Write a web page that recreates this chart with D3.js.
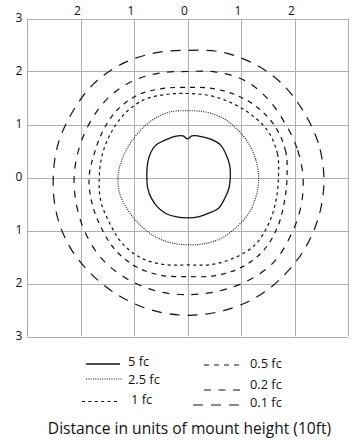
<!DOCTYPE html>
<html>
<head>
<meta charset="utf-8">
<script src="https://cdn.jsdelivr.net/npm/d3@7"></script>
<style>
  body { margin: 0; background: #fff; }
  text { font-family: "Open Sans", sans-serif; fill: #111; }
</style>
</head>
<body>
<div id="chart"></div>
<script>
// grid ticks, in units of mount height
const xTicks = [-3, -2, -1, 0, 1, 2, 3];
const yTicks = [-3, -2, -1, 0, 1, 2, 3];
const topLabels = [-2, -1, 0, 1, 2];

// polar sample angles (degrees, 0 = right, counter-clockwise)
const angles = [0, 15, 30, 45, 60, 75, 90, 105, 120, 135, 150, 165,
  180, 195, 210, 225, 240, 255, 270, 285, 300, 315, 330, 345];
const angles5 = [0, 15, 30, 45, 60, 75, 84, 90, 96, 105, 120, 135, 150, 165,
  180, 195, 210, 225, 240, 255, 270, 285, 300, 315, 330, 345];

// contour radius (mount heights) at each angle
const r5fc = [0.80, 0.82, 0.84, 0.87, 0.84, 0.81, 0.79, 0.73, 0.79, 0.81, 0.82, 0.85, 0.82, 0.78,
  0.76, 0.77, 0.78, 0.79, 0.79, 0.77, 0.76, 0.77, 0.78, 0.82, 0.80, 0.80];
const r25fc = [1.33, 1.32, 1.31, 1.30, 1.30, 1.28, 1.26, 1.28, 1.27, 1.25, 1.25, 1.27,
  1.30, 1.30, 1.27, 1.26, 1.27, 1.27, 1.27, 1.29, 1.31, 1.31, 1.33, 1.33];
const r1fc = [1.70, 1.74, 1.74, 1.68, 1.63, 1.60, 1.585, 1.62, 1.68, 1.68, 1.66, 1.65,
  1.65, 1.68, 1.69, 1.74, 1.75, 1.70, 1.65, 1.70, 1.75, 1.79, 1.75, 1.71];
const r05fc = [1.86, 1.90, 1.90, 1.86, 1.80, 1.74, 1.70, 1.74, 1.81, 1.83, 1.81, 1.80,
  1.84, 1.85, 1.87, 1.92, 1.94, 1.91, 1.87, 1.92, 1.97, 1.98, 1.93, 1.87];
const r02fc = [2.16, 2.12, 2.09, 2.11, 2.12, 2.06, 2.00, 2.04, 2.09, 2.11, 2.10, 2.10,
  2.12, 2.14, 2.18, 2.22, 2.22, 2.22, 2.21, 2.22, 2.25, 2.27, 2.22, 2.19];
const r01fc = [2.55, 2.53, 2.50, 2.50, 2.48, 2.45, 2.40, 2.43, 2.47, 2.49, 2.48, 2.50,
  2.51, 2.54, 2.56, 2.56, 2.57, 2.59, 2.60, 2.60, 2.60, 2.58, 2.57, 2.56];

const levelNames = ["5 fc", "2.5 fc", "1 fc", "0.5 fc", "0.2 fc", "0.1 fc"];
const title = "Distance in units of mount height (10ft)";

const W = 357, H = 440;

const levels = [
  { name: levelNames[0], a: angles5, r: r5fc, dash: null, w: 1.3 },
  { name: levelNames[1], a: angles, r: r25fc, dash: "1,1.3", w: 1.1 },
  { name: levelNames[2], a: angles, r: r1fc, dash: "3,3.4", w: 1.2 },
  { name: levelNames[3], a: angles, r: r05fc, dash: "5,5", w: 1.2 },
  { name: levelNames[4], a: angles, r: r02fc, dash: "7,7.5", w: 1.2 },
  { name: levelNames[5], a: angles, r: r01fc, dash: "10,8", w: 1.2 }
];

const svg = d3.select("#chart").append("svg")
  .attr("width", W).attr("height", H);

const x = d3.scaleLinear().domain([-3, 3]).range([27, 348]);
const y = d3.scaleLinear().domain([-3, 3]).range([336.5, 18.5]);

// grid
const grid = svg.append("g").attr("stroke", "#b0b0b0").attr("stroke-width", 1);
grid.selectAll("line.v").data(xTicks).enter().append("line")
  .attr("x1", d => Math.round(x(d)) + 0.5).attr("x2", d => Math.round(x(d)) + 0.5)
  .attr("y1", y(3)).attr("y2", y(-3));
grid.selectAll("line.h").data(yTicks).enter().append("line")
  .attr("y1", d => Math.round(y(d)) + 0.5).attr("y2", d => Math.round(y(d)) + 0.5)
  .attr("x1", x(-3)).attr("x2", x(3));

// tick labels (absolute distance)
svg.selectAll("text.top").data(topLabels).enter().append("text")
  .attr("x", d => x(d) - 3).attr("y", 12)
  .attr("text-anchor", "middle").attr("dominant-baseline", "middle")
  .attr("font-size", 12).text(d => Math.abs(d));
svg.selectAll("text.left").data(yTicks).enter().append("text")
  .attr("x", 19).attr("y", d => y(d))
  .attr("text-anchor", "middle").attr("dominant-baseline", "middle")
  .attr("font-size", 12).text(d => Math.abs(d));

// contours
const line = d3.line()
  .x(p => x(p[1] * Math.cos(p[0] * Math.PI / 180)))
  .y(p => y(p[1] * Math.sin(p[0] * Math.PI / 180)))
  .curve(d3.curveCatmullRomClosed.alpha(0.5));

svg.append("g").selectAll("path").data(levels).enter().append("path")
  .attr("d", d => line(d.a.map((ang, i) => [ang, d.r[i]])))
  .attr("fill", "none").attr("stroke", "#111")
  .attr("stroke-width", d => d.w)
  .attr("stroke-dasharray", d => d.dash);

// legend
const legendPos = [
  { x1: 86, x2: 120, ly: 364, tx: 128, ty: 363 },
  { x1: 86, x2: 122, ly: 379, tx: 128, ty: 381 },
  { x1: 82, x2: 117, ly: 401.5, tx: 131, ty: 401 },
  { x1: 204, x2: 240, ly: 365, tx: 250, ty: 365 },
  { x1: 204, x2: 240, ly: 390, tx: 250, ty: 385.5 },
  { x1: 193, x2: 239, ly: 405, tx: 250, ty: 403.5 }
];
const legend = svg.append("g");
levels.forEach((d, i) => {
  const p = legendPos[i];
  legend.append("line")
    .attr("x1", p.x1).attr("x2", p.x2).attr("y1", p.ly).attr("y2", p.ly)
    .attr("stroke", "#111").attr("stroke-width", d.w)
    .attr("stroke-dasharray", d.dash);
  legend.append("text")
    .attr("x", p.tx).attr("y", p.ty)
    .attr("dominant-baseline", "middle").attr("font-size", 12.8)
    .text(d.name);
});

svg.append("text")
  .attr("x", 189.5).attr("y", 430)
  .attr("text-anchor", "middle").attr("dominant-baseline", "middle")
  .attr("font-size", 15.6)
  .text(title);
</script>
</body>
</html>
